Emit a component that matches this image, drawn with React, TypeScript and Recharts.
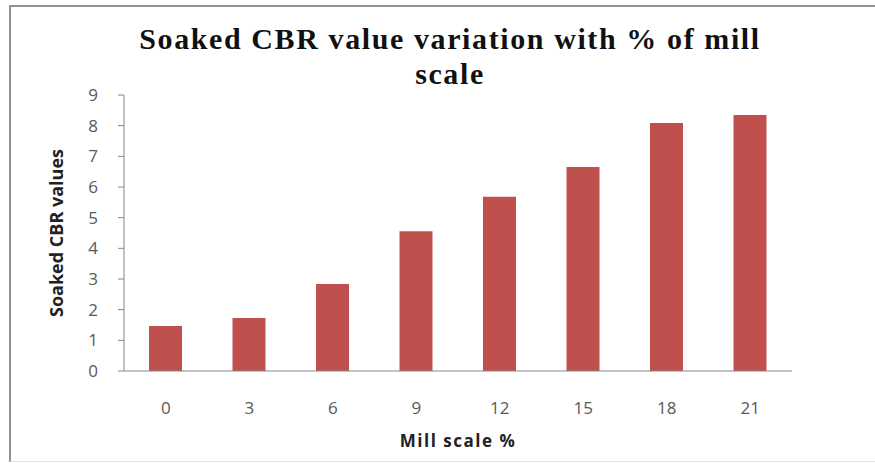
import { BarChart, Bar, XAxis, YAxis } from "recharts";

const millScale = ["0", "3", "6", "9", "12", "15", "18", "21"];
const soakedCbr = [1.47, 1.73, 2.84, 4.56, 5.68, 6.65, 8.09, 8.35];
const yTicks = [0, 1, 2, 3, 4, 5, 6, 7, 8, 9];

const data = millScale.map((m, i) => ({ mill: m, cbr: soakedCbr[i] }));

const axisGray = "#878787";
const tickText = { fill: "#595959", fontSize: 17, fontFamily: "Open Sans" };

export default function App() {
  return (
    <div style={{ position: "absolute", left: 0, top: 0, width: 875, height: 464, background: "#fff" }}>
      <div
        style={{
          position: "absolute",
          left: 9,
          top: 5,
          right: 0,
          bottom: 2,
          borderTop: "2px solid #909090",
          borderLeft: "2px solid #909090",
          borderBottom: "1px solid #e0e0e0",
        }}
      />
      <div
        style={{
          position: "absolute",
          left: 40,
          width: 820,
          top: 21,
          textAlign: "center",
          fontFamily: "Liberation Serif",
          fontWeight: "bold",
          fontSize: 30,
          lineHeight: "35px",
          letterSpacing: 1.6,
          color: "#111",
        }}
      >
        Soaked CBR value variation with % of mill
        <br />
        scale
      </div>
      <div style={{ position: "absolute", left: 0, top: 0 }}>
        <BarChart
          width={875}
          height={464}
          data={data}
          margin={{ top: 95, right: 83, bottom: 13, left: 0 }}
        >
          <XAxis
            dataKey="mill"
            height={80}
            tickLine={false}
            tickMargin={25}
            stroke={axisGray}
            tick={tickText}
            label={{
              value: "Mill scale %",
              position: "insideBottom",
              offset: 4,
              fill: "#222",
              fontSize: 17,
              fontWeight: "bold",
              fontFamily: "Open Sans",
              letterSpacing: 1.5,
            }}
          />
          <YAxis
            width={124}
            domain={[0, 9]}
            ticks={yTicks}
            interval={0}
            tickSize={6}
            tickMargin={20}
            stroke={axisGray}
            tick={tickText}
            label={{
              value: "Soaked CBR values",
              angle: -90,
              position: "center",
              dx: -5,
              fill: "#222",
              fontSize: 18,
              fontWeight: "bold",
              fontFamily: "Open Sans",
            }}
          />
          <Bar dataKey="cbr" fill="#c0504d" barSize={33} isAnimationActive={false} />
        </BarChart>
      </div>
    </div>
  );
}
